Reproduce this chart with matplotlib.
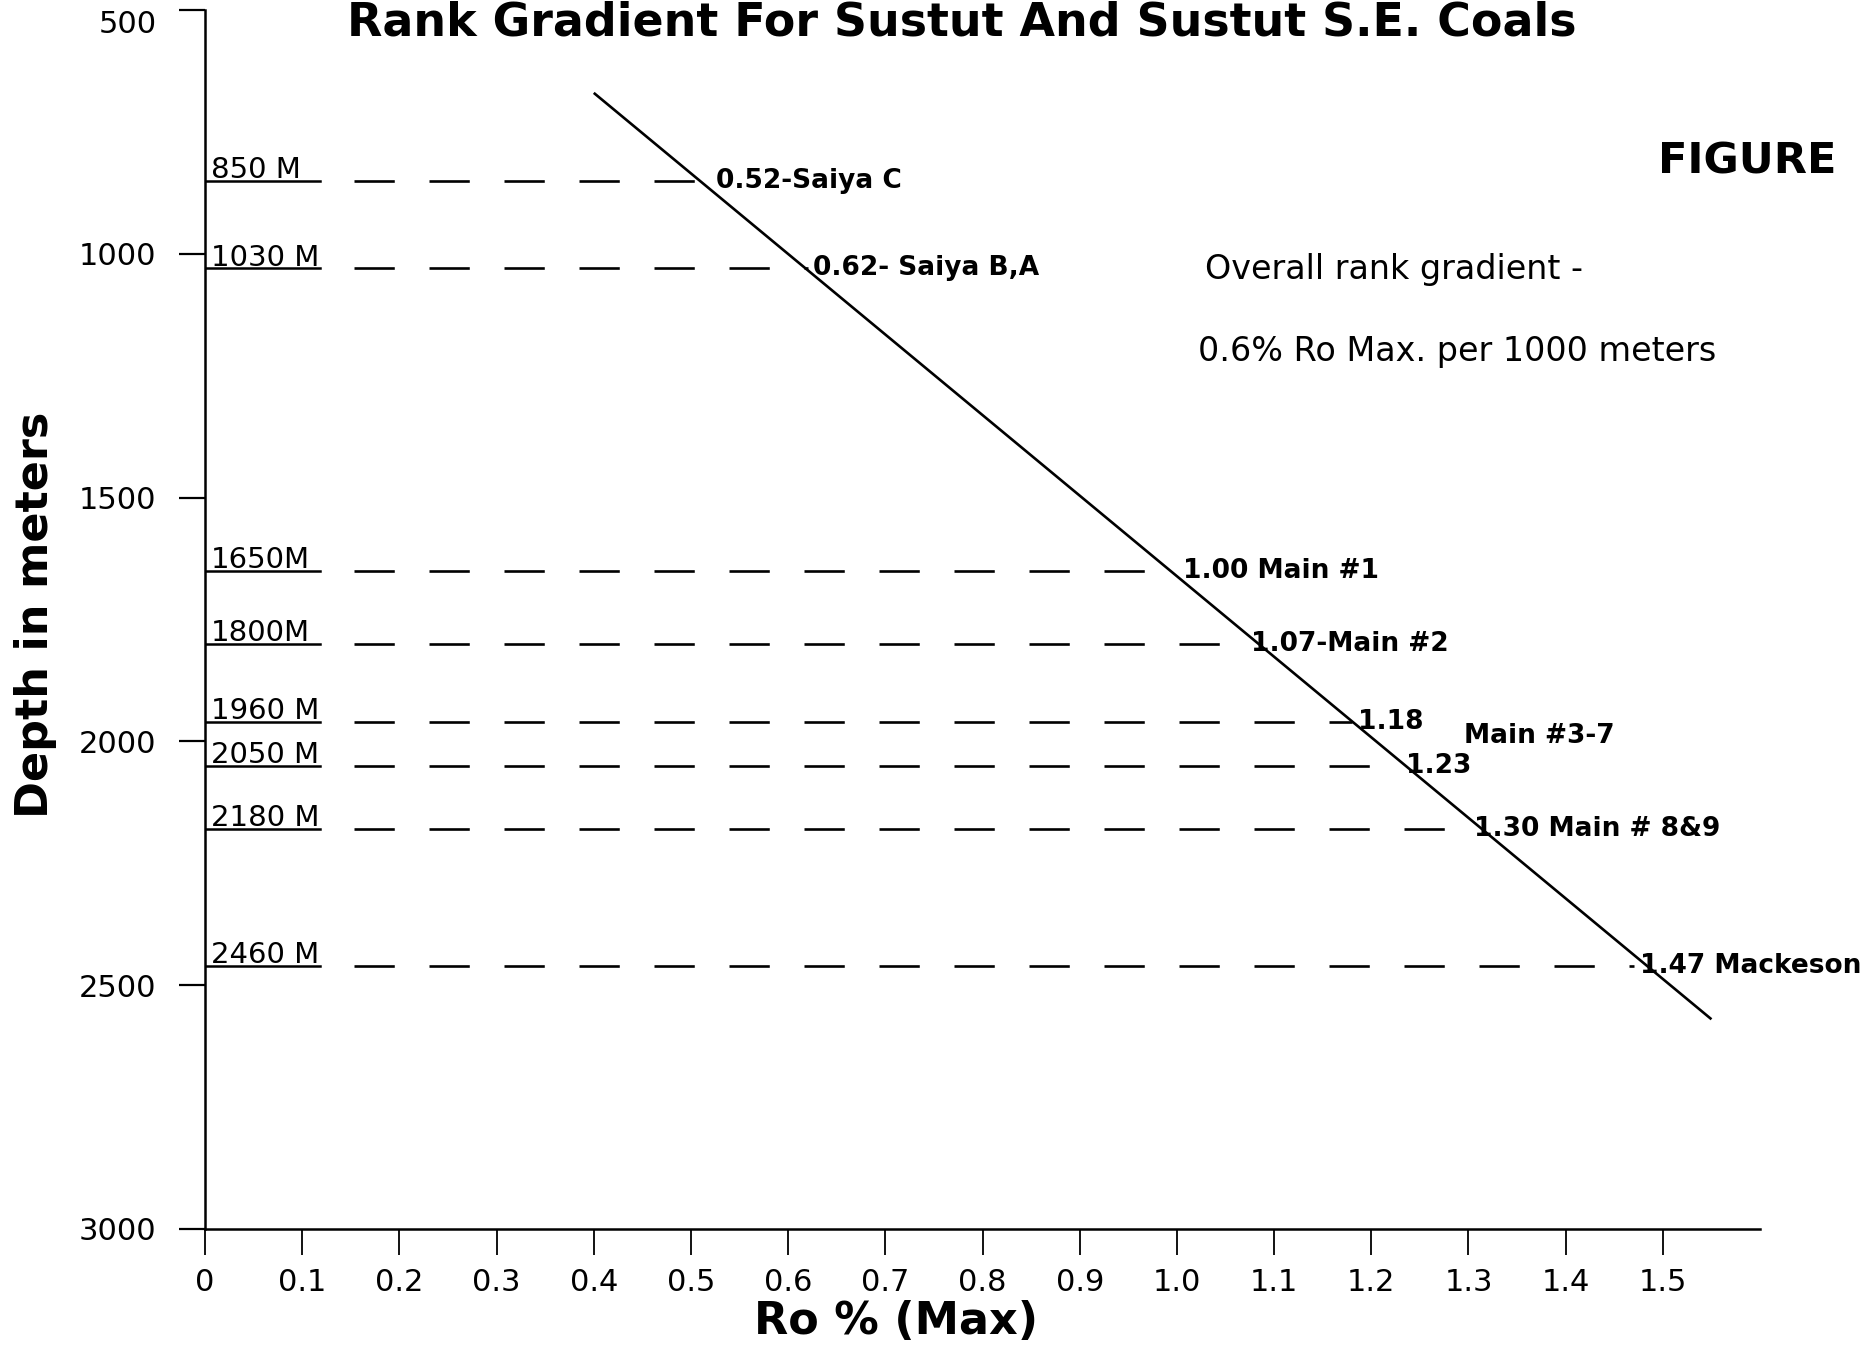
import matplotlib
matplotlib.use('Agg')
import matplotlib.pyplot as plt

# seam depths (m) and vitrinite reflectance
depths = [850, 1030, 1650, 1800, 1960, 2050, 2180, 2460]
ro_values = [0.52, 0.62, 1.00, 1.07, 1.18, 1.23, 1.30, 1.47]
depth_labels = ['850 M', '1030 M', '1650M', '1800M', '1960 M', '2050 M', '2180 M', '2460 M']
seam_labels = ['0.52-Saiya C', '0.62- Saiya B,A', '1.00 Main #1', '1.07-Main #2',
               '1.18', '1.23', '1.30 Main # 8&9', '1.47 Mackeson']

# overall gradient line
trend_ro = [0.40, 1.55]
trend_depth = [670, 2570]

x_ticks = [0, 0.1, 0.2, 0.3, 0.4, 0.5, 0.6, 0.7, 0.8, 0.9, 1.0, 1.1, 1.2, 1.3, 1.4, 1.5]
x_tick_labels = ['0', '0.1', '0.2', '0.3', '0.4', '0.5', '0.6', '0.7', '0.8', '0.9',
                 '1.0', '1.1', '1.2', '1.3', '1.4', '1.5']
y_ticks = [500, 1000, 1500, 2000, 2500, 3000]

plt.rcParams['lines.scale_dashes'] = False
plt.rcParams['font.family'] = ['DejaVu Sans']

fig = plt.figure(figsize=(18.74, 13.49), dpi=100)
ax = fig.add_axes([0.1094, 0.0890, 0.8298, 0.9036])
ax.set_xlim(0, 1.6)
ax.set_ylim(3000, 500)

for s in ['top', 'right']:
    ax.spines[s].set_visible(False)
for s in ['left', 'bottom']:
    ax.spines[s].set_linewidth(1.8)

ax.set_xticks(x_ticks)
ax.set_xticklabels(x_tick_labels)
ax.set_yticks(y_ticks)
ax.set_yticklabels([str(v) for v in y_ticks])
ax.tick_params(axis='x', direction='out', length=19, width=1.3, pad=9, labelsize=22)
ax.tick_params(axis='y', direction='out', length=19, width=1.6, pad=16, labelsize=22)
# top label sits a little under its tick, as in the original sheet
ax.get_yticklabels()[0].set_va('top')

ax.plot(trend_ro, trend_depth, color='black', lw=1.9, solid_capstyle='butt')

for d, r, dl, sl in zip(depths, ro_values, depth_labels, seam_labels):
    # underline of the depth label, then the dashed level line
    ax.plot([0, 0.118], [d, d], color='black', lw=1.8)
    ax.plot([0.153, r], [d, d], color='black', lw=1.9, linestyle=(0, (29, 25)))
    ax.annotate(dl, (0.006, d), xytext=(0, 2), textcoords='offset points',
                fontsize=21, va='baseline', ha='left')
    ax.annotate(sl, (r + 0.006, d), xytext=(0, 0), textcoords='offset points',
                fontsize=19, fontweight='bold', va='center', ha='left')

ax.text(1.295, 1990, 'Main #3-7', fontsize=19, fontweight='bold', va='center', ha='left')

fig.text(0.5133, 1 - 36 / 1349, 'Rank Gradient For Sustut And Sustut S.E. Coals',
         fontsize=33, fontweight='bold', ha='center', va='baseline')
fig.text(1747 / 1874, 1 - 161 / 1349, 'FIGURE', fontsize=31, fontweight='bold',
         ha='center', va='center')
fig.text(1205 / 1874, 1 - 270 / 1349, 'Overall rank gradient -', fontsize=24,
         ha='left', va='center')
fig.text(1198 / 1874, 1 - 351 / 1349, '0.6% Ro Max. per 1000 meters', fontsize=24,
         ha='left', va='center')

fig.text(36 / 1874, 1 - 615 / 1349, 'Depth in meters', fontsize=32, fontweight='bold',
         rotation=90, ha='center', va='center')
fig.text(896 / 1874, 1 - 1322 / 1349, 'Ro % (Max)', fontsize=32, fontweight='bold',
         ha='center', va='center')

fig.savefig('out.png', dpi=100)
